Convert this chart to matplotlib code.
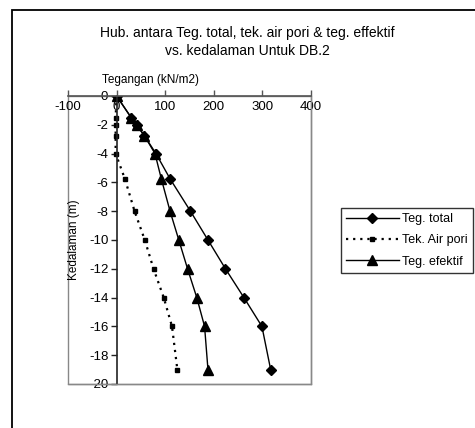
import matplotlib
matplotlib.use("Agg")
import matplotlib.pyplot as plt
from matplotlib.patches import Rectangle

plt.rcParams['font.family'] = ['Liberation Sans', 'DejaVu Sans']
plt.rcParams['axes.unicode_minus'] = False

depth = [0, -1.5, -2, -2.75, -4, -5.75, -8, -10, -12, -14, -16, -19]
teg_total = [0, 30, 41, 57, 81, 110, 152, 188, 224, 262, 299, 317]
tek_air_pori = [0, -2, -2, -2, -2, 17, 37, 58, 76, 97, 114, 125]
teg_efektif = [0, 30, 41, 57, 79, 92, 110, 128, 146, 165, 181, 188]

x_ticks = [-100, 0, 100, 200, 300, 400]
y_ticks = [0, -2, -4, -6, -8, -10, -12, -14, -16, -18, -20]

W, H = 475, 428
fig = plt.figure(figsize=(W / 100, H / 100), dpi=100)

# outer chart frame
fig.patches.append(Rectangle((12 / W, -0.1), 1.2, 1.1 - 10 / H,
                             transform=fig.transFigure, fill=False,
                             edgecolor='black', linewidth=1.3, clip_on=False))

ax = fig.add_axes([68 / W, 1 - 384 / H, (311 - 68) / W, (384 - 96) / H])

ax.plot(teg_total, depth, color='black', lw=1.0, marker='D', ms=5,
        label='Teg. total')
ax.plot(tek_air_pori, depth, color='black', lw=1.6, ls=(0, (1, 2.2)),
        marker='s', ms=3.5, label='Tek. Air pori')
ax.plot(teg_efektif, depth, color='black', lw=1.0, marker='^', ms=6.5,
        label='Teg. efektif')

ax.set_xlim(-100, 400)
ax.set_ylim(-20, 0)
ax.set_xticks(x_ticks)
ax.set_xticklabels([str(v) for v in x_ticks])
ax.set_yticks(y_ticks)
ax.set_yticklabels([str(v) for v in y_ticks])

for s in ['bottom', 'right']:
    ax.spines[s].set_color('#888888')
    ax.spines[s].set_linewidth(1.0)
ax.spines['top'].set_color('#555555')
ax.spines['top'].set_linewidth(1.2)
ax.spines['left'].set_position(('data', 0))
ax.spines['left'].set_color('#222222')
ax.spines['left'].set_linewidth(1.2)
# grey frame of the plot box
ax.add_patch(Rectangle((0, 0), 1, 1, transform=ax.transAxes, fill=False,
                       edgecolor='#888888', lw=1.0, clip_on=False, zorder=0))

ax.xaxis.set_ticks_position('top')
ax.tick_params(axis='x', direction='out', length=4, width=1, colors='#555555',
               labelcolor='black', labelsize=9.5, pad=-16, labeltop=True,
               labelbottom=False)
ax.tick_params(axis='y', direction='out', length=4, width=1, colors='#222222',
               labelcolor='black', labelsize=9.5, pad=2)

ax.set_xlabel('Tegangan (kN/m2)', fontsize=8.5)
ax.xaxis.set_label_position('top')
ax.xaxis.set_label_coords(0.34, 1.045)
ax.set_ylabel('Kedalaman (m)', fontsize=8.5)
ax.yaxis.set_label_coords(0.05, 0.5)

fig.text(247 / W, 1 - 33 / H, 'Hub. antara Teg. total, tek. air pori & teg. effektif',
         ha='center', va='center', fontsize=10)
fig.text(247 / W, 1 - 51 / H, 'vs. kedalaman Untuk DB.2',
         ha='center', va='center', fontsize=10)

leg = fig.legend(loc='upper left', bbox_to_anchor=(341 / W, 1 - 208 / H),
                 frameon=True, fancybox=False, edgecolor='black', fontsize=9,
                 handlelength=4.2, borderaxespad=0, borderpad=0.4,
                 labelspacing=0.75, handletextpad=0.3)
leg.get_frame().set_linewidth(1.0)

fig.savefig('out.png', dpi=100)
